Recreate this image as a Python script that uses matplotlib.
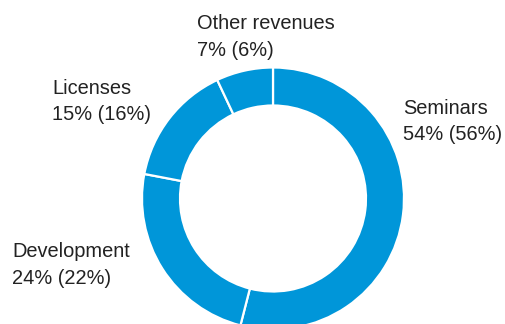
import matplotlib.pyplot as plt

# revenue split, current year share and prior year share (in brackets)
segments = ['Seminars', 'Development', 'Licenses', 'Other revenues']
share = [54, 24, 15, 7]
share_prev = [56, 22, 16, 6]

# label anchor (left edge, baseline of first line) in pixels from top-left
label_pos = [(403, 114), (12, 257), (52, 94), (197, 29)]

BLUE = '#0096d9'
TEXT = '#222222'


def main():

    fig = plt.figure(figsize=(5.05, 3.24), dpi=100)
    ax = fig.add_axes([0, 0, 1, 1])

    W, H = 505, 324
    cx, cy = 273, 198.5
    r_out = 131
    ring = 38

    ax.pie(share, startangle=90, counterclock=False,
           colors=[BLUE] * len(share), radius=r_out,
           center=(cx, H - cy),
           wedgeprops=dict(width=ring, edgecolor='white', linewidth=1.6))

    ax.set_xlim(0, W)
    ax.set_ylim(0, H)
    ax.set_aspect('equal')
    ax.axis('off')

    line_gap = 26.5
    for name, s, p, (x, y) in zip(segments, share, share_prev, label_pos):
        ax.text(x, H - y, name, fontsize=14.4, color=TEXT,
                family='Liberation Sans', ha='left', va='baseline')
        ax.text(x, H - y - line_gap, '%d%% (%d%%)' % (s, p), fontsize=14.4,
                color=TEXT, family='Liberation Sans', ha='left', va='baseline')

    fig.savefig('out.png', dpi=100)


if __name__ == "__main__":
    main()
